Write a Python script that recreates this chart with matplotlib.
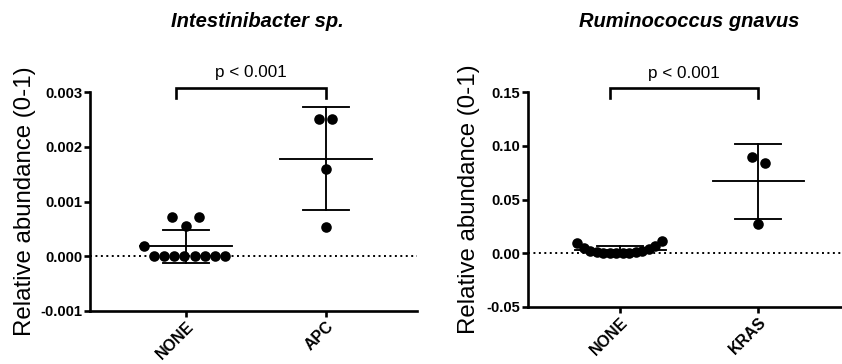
import numpy as np
from matplotlib import pyplot as plt
from matplotlib.ticker import FormatStrFormatter
from matplotlib import transforms

plt.rcParams['font.family'] = ['Liberation Sans', 'DejaVu Sans']
plt.rcParams['axes.unicode_minus'] = False

# panel 1: Intestinibacter sp.
left_title = "Intestinibacter sp."
left_groups = ["NONE", "APC"]
left_none = [0.00072, 0.00072, 0.00055, 0.00018,
             0.0, 0.0, 0.0, 0.0, 0.0, 0.0, 0.0, 0.0]
left_apc = [0.0025, 0.0025, 0.0016, 0.00053]
left_yticks = [-0.001, 0.000, 0.001, 0.002, 0.003]

# panel 2: Ruminococcus gnavus
right_title = "Ruminococcus gnavus"
right_groups = ["NONE", "KRAS"]
right_none = [0.0095, 0.0045, 0.002, 0.0008, 0.0003, 0.0002, 0.0002,
              0.0003, 0.0005, 0.001, 0.002, 0.0035, 0.0065, 0.011]
right_kras = [0.090, 0.084, 0.027]
right_yticks = [-0.05, 0.00, 0.05, 0.10, 0.15]

p_label = "p < 0.001"
y_label = "Relative abundance (0-1)"

# horizontal jitter of the dots (layout only)
left_none_dx = [-0.10, 0.095, 0.0, -0.30,
                -0.23, -0.157, -0.084, -0.011, 0.062, 0.135, 0.208, 0.281]
left_apc_dx = [-0.053, 0.045, 0.0, 0.0]
right_none_dx = list(np.linspace(-0.31, 0.30, len(right_none)))
right_kras_dx = [-0.045, 0.05, 0.0]


def draw_group(ax, xpos, vals, dx):
    vals = np.asarray(vals)
    ax.scatter(xpos + np.asarray(dx), vals, s=58, color='black',
               zorder=3, linewidths=0, clip_on=False)
    m = vals.mean()
    sd = vals.std(ddof=1)
    lw = 1.35
    ax.plot([xpos - 0.33, xpos + 0.33], [m, m], color='black', lw=lw,
            zorder=4)
    ax.plot([xpos, xpos], [m - sd, m + sd], color='black', lw=lw, zorder=4)
    for yy in (m - sd, m + sd):
        ax.plot([xpos - 0.165, xpos + 0.165], [yy, yy], color='black',
                lw=lw, zorder=4)


def draw_panel(ax, title, groups, data, dxs, yticks, fmt, xlim, tx):
    for i, (vals, dx) in enumerate(zip(data, dxs)):
        draw_group(ax, i, vals, dx)
    ax.axhline(0, color='black', ls=(0, (1, 1.8)), lw=1.4, zorder=1)
    ax.set_xlim(xlim)
    ax.set_ylim(yticks[0], yticks[-1])
    ax.set_yticks(yticks)
    ax.yaxis.set_major_formatter(FormatStrFormatter(fmt))
    ax.set_xticks(range(len(groups)))
    ax.set_xticklabels(groups, rotation=45, ha='right', va='top',
                       rotation_mode='anchor', fontweight='bold',
                       fontsize=11.5)
    for lab in ax.get_yticklabels():
        lab.set_fontweight('bold')
        lab.set_fontsize(10.6)
    for s in ('top', 'right'):
        ax.spines[s].set_visible(False)
    for s in ('left', 'bottom'):
        ax.spines[s].set_linewidth(1.9)
    ax.tick_params(axis='both', width=1.9, length=4, pad=1.5)
    ax.set_ylabel(y_label, fontsize=17.3)

    # significance bracket
    tr = transforms.blended_transform_factory(ax.transData, ax.transAxes)
    ax.plot([-0.07, -0.07, 1, 1], [0.973, 1.019, 1.019, 0.973],
            color='black', lw=1.9, transform=tr, clip_on=False,
            solid_joinstyle='miter')
    ax.text(0.465, 1.087, p_label, transform=tr, ha='center',
            va='center', fontsize=12.3)
    ax.figure.text(tx, 0.94, title, ha='center', va='center',
                   fontsize=14.5, fontweight='bold', fontstyle='italic')


fig = plt.figure(figsize=(8.42, 3.64), dpi=100)
ax1 = fig.add_axes([90 / 842, 1 - 311 / 364, 327 / 842, 219 / 364])
ax2 = fig.add_axes([528 / 842, 1 - 307 / 364, 320 / 842, 215 / 364])

draw_panel(ax1, left_title, left_groups, [left_none, left_apc],
           [left_none_dx, left_apc_dx], left_yticks, '%.3f',
           (-0.686, 1.65), 257 / 842)
draw_panel(ax2, right_title, right_groups, [right_none, right_kras],
           [right_none_dx, right_kras_dx], right_yticks, '%.2f',
           (-0.667, 1.65), 689 / 842)

ax1.yaxis.set_label_coords(-0.165, 0.5)
ax2.yaxis.set_label_coords(-0.15, 0.5)

fig.savefig("out.png", dpi=100)
